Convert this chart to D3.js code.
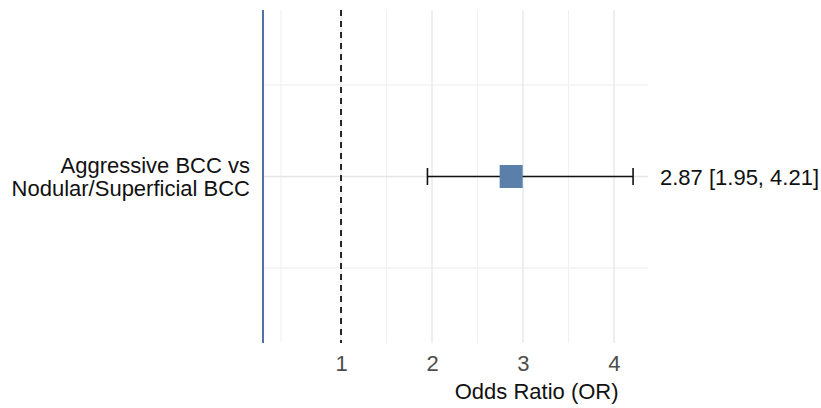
<!DOCTYPE html>
<html><head><meta charset="utf-8">
<script src="https://cdn.jsdelivr.net/npm/d3@7"></script>
<style>body{margin:0;background:#fff}svg{display:block}text{font-family:"Liberation Sans",Arial,Helvetica,sans-serif}</style>
</head><body><svg id="c" width="821" height="408"></svg>
<script>
const labels = [["Aggressive BCC vs", "Nodular/Superficial BCC"]];
const orValues = [2.87];
const lowerCI = [1.95];
const upperCI = [4.21];
const ciText = ["2.87 [1.95, 4.21]"];
const xTicks = [1, 2, 3, 4];
const xMinor = [0.34, 1.5, 2.5, 3.5];
const yMinor = [0.5, 1.5];
const xTitle = "Odds Ratio (OR)";

const svg = d3.select("#c");
const L = 262.5, R = 648, T = 10, B = 343;
const x = d3.scaleLinear().domain([0.137, 4.374]).range([L, R]);
const y = d3.scaleLinear().domain([0.09, 1.91]).range([B, T]);

const g = svg.append("g");
// grid
g.selectAll(".hmin").data(yMinor).join("line")
  .attr("x1", L).attr("x2", R).attr("y1", d => y(d)).attr("y2", d => y(d))
  .attr("stroke", "#ebebeb").attr("stroke-width", 1);
g.selectAll(".vmin").data(xMinor).join("line")
  .attr("x1", d => x(d)).attr("x2", d => x(d)).attr("y1", T).attr("y2", B)
  .attr("stroke", "#f0f0f0").attr("stroke-width", 1);
g.selectAll(".vmaj").data(xTicks).join("line")
  .attr("x1", d => x(d)).attr("x2", d => x(d)).attr("y1", T).attr("y2", B)
  .attr("stroke", "#e6e6e6").attr("stroke-width", 1.3);
g.selectAll(".hmaj").data([1]).join("line")
  .attr("x1", L).attr("x2", R).attr("y1", d => y(d)).attr("y2", d => y(d))
  .attr("stroke", "#e6e6e6").attr("stroke-width", 1.3);

// reference line at OR = 1
g.append("line").attr("x1", x(1)).attr("x2", x(1)).attr("y1", T).attr("y2", B)
  .attr("stroke", "#111").attr("stroke-width", 1.8).attr("stroke-dasharray", "6,5");

// left axis line
g.append("line").attr("x1", L + 0.5).attr("x2", L + 0.5).attr("y1", T).attr("y2", B)
  .attr("stroke", "#4f74a0").attr("stroke-width", 2);

// x axis tick labels via d3 axis
const ax = svg.append("g").attr("transform", `translate(0,${B})`)
  .call(d3.axisBottom(x).tickValues(xTicks).tickFormat(d3.format("d")).tickSize(0).tickPadding(12));
ax.select(".domain").remove();
ax.selectAll("text").attr("font-size", 22).attr("fill", "#4d4d4d")
  .attr("font-family", "'Liberation Sans', Arial, sans-serif");

// x title
svg.append("text").attr("x", x(3.15)).attr("y", 399).attr("text-anchor", "middle")
  .attr("font-size", 22).attr("fill", "#111").text(xTitle);

// data
orValues.forEach((v, i) => {
  const yy = y(1 - i);
  const cap = 8.5;
  g.append("line").attr("x1", x(lowerCI[i])).attr("x2", x(upperCI[i])).attr("y1", yy).attr("y2", yy)
    .attr("stroke", "#111").attr("stroke-width", 1.6);
  [lowerCI[i], upperCI[i]].forEach(c => {
    g.append("line").attr("x1", x(c)).attr("x2", x(c)).attr("y1", yy - cap).attr("y2", yy + cap)
      .attr("stroke", "#111").attr("stroke-width", 1.6);
  });
  g.append("rect").attr("x", x(v) - 11.5).attr("y", yy - 11.5).attr("width", 23).attr("height", 23)
    .attr("fill", "#5a80aa");
  svg.append("text").attr("x", 660).attr("y", yy + 8).attr("font-size", 22).attr("fill", "#111").text(ciText[i]);
  const t = svg.append("text").attr("text-anchor", "end").attr("font-size", 22).attr("fill", "#111");
  labels[i].forEach((s, k) => {
    t.append("tspan").attr("x", 250).attr("y", yy - 3.3 + k * 22.5).text(s);
  });
});
</script></body></html>
